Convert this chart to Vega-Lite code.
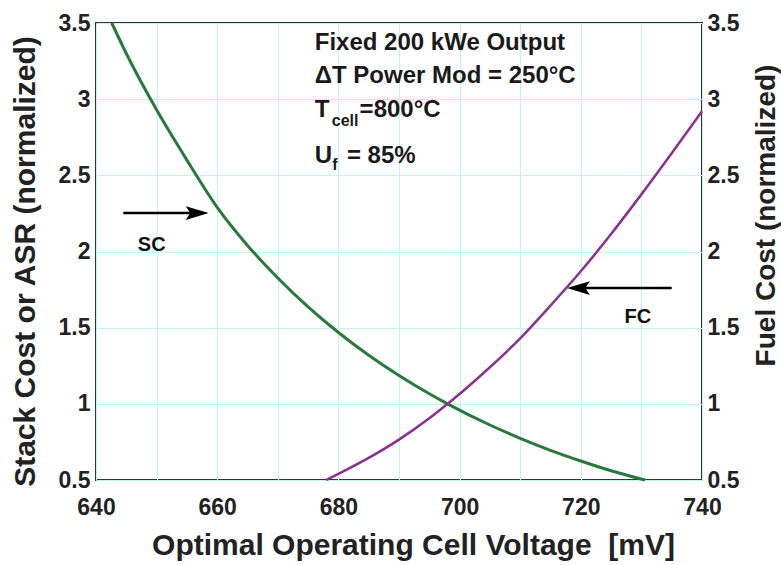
{
  "$schema": "https://vega.github.io/schema/vega-lite/v6.json",
  "width": 606,
  "height": 457,
  "autosize": {"type": "none"},
  "padding": {"left": 96, "top": 23, "right": 79, "bottom": 85},
  "background": "white",
  "config": {
    "view": {"stroke": "#333333", "strokeWidth": 2},
    "font": "Liberation Sans",
    "text": {"font": "Liberation Sans"}
  },
  "datasets": {
    "sc": [
      {"v": 642.6, "val": 3.5}, {"v": 645, "val": 3.3}, {"v": 650, "val": 2.93},
      {"v": 655, "val": 2.6}, {"v": 660, "val": 2.29}, {"v": 665, "val": 2.04},
      {"v": 670, "val": 1.826}, {"v": 675, "val": 1.636}, {"v": 680, "val": 1.468},
      {"v": 685, "val": 1.319}, {"v": 690, "val": 1.186}, {"v": 695, "val": 1.066},
      {"v": 698, "val": 1.0}, {"v": 705, "val": 0.861}, {"v": 710, "val": 0.774},
      {"v": 715, "val": 0.695}, {"v": 720, "val": 0.625}, {"v": 725, "val": 0.561},
      {"v": 730.6, "val": 0.5}
    ],
    "fc": [
      {"v": 678, "fuel": 0.5}, {"v": 680, "fuel": 0.54}, {"v": 685, "fuel": 0.645},
      {"v": 690, "fuel": 0.765}, {"v": 695, "fuel": 0.905}, {"v": 698, "fuel": 1.0},
      {"v": 700, "fuel": 1.065}, {"v": 705, "fuel": 1.24}, {"v": 710, "fuel": 1.43},
      {"v": 715, "fuel": 1.645}, {"v": 720, "fuel": 1.87}, {"v": 725, "fuel": 2.115},
      {"v": 730, "fuel": 2.375}, {"v": 735, "fuel": 2.645}, {"v": 740, "fuel": 2.92}
    ],
    "notes": [
      {"v": 676.1, "val": 3.369, "text": "Fixed 200 kWe Output"},
      {"v": 676.1, "val": 3.152, "text": "ΔT Power Mod = 250°C"},
      {"v": 676.1, "val": 2.929, "text": "T"},
      {"v": 683.5, "val": 2.929, "text": "=800°C"},
      {"v": 676.1, "val": 2.627, "text": "U"},
      {"v": 681.4, "val": 2.627, "text": "= 85%"}
    ],
    "subs": [
      {"v": 678.9, "val": 2.857, "text": "cell"},
      {"v": 679.0, "val": 2.568, "text": "f"}
    ],
    "labels": [
      {"v": 649.2, "val": 2.042, "text": "SC"},
      {"v": 729.4, "val": 1.57, "text": "FC"}
    ],
    "shafts": [
      {"v": 644.5, "v2": 655.5, "val": 2.252},
      {"v": 735.0, "v2": 720.5, "val": 1.76}
    ],
    "heads": [
      {"v": 658.6, "val": 2.252, "dir": "right"},
      {"v": 717.7, "val": 1.76, "dir": "left"}
    ]
  },
  "layer": [
    {
      "layer": [
        {
          "data": {"name": "sc"},
          "mark": {"type": "line", "color": "#287a3c", "strokeWidth": 3, "interpolate": "monotone"},
          "encoding": {
            "x": {
              "field": "v", "type": "quantitative",
              "scale": {"domain": [640, 740], "nice": false, "zero": false},
              "axis": {
                "orient": "bottom",
                "values": [640, 650, 660, 670, 680, 690, 700, 710, 720, 730, 740],
                "labelExpr": "datum.value % 20 === 0 ? datum.label : ''",
                "grid": true, "gridColor": "#c4f2f2", "gridWidth": 1,
                "ticks": false, "domain": false,
                "labelFontSize": 23, "labelFontWeight": "bold", "labelColor": "#222222",
                "labelPadding": 16, "labelFlush": false,
                "title": "Optimal Operating Cell Voltage \u00a0[mV]",
                "titleFontSize": 30, "titleFontWeight": "bold", "titleColor": "#222222",
                "titlePadding": 11, "titleX": 317
              }
            },
            "y": {
              "field": "val", "type": "quantitative",
              "scale": {"domain": [0.5, 3.5], "nice": false, "zero": false},
              "axis": {
                "orient": "left",
                "values": [0.5, 1, 1.5, 2, 2.5, 3, 3.5],
                "format": "~g",
                "grid": true, "gridColor": "#c4f2f2", "gridWidth": 1,
                "ticks": false, "domain": false,
                "labelFontSize": 23, "labelFontWeight": "bold", "labelColor": "#222222",
                "labelPadding": 6, "labelFlush": false,
                "title": "Stack Cost or ASR (normalized)",
                "titleFontSize": 30, "titleFontWeight": "bold", "titleColor": "#222222",
                "titlePadding": 18, "titleY": 238
              }
            }
          }
        },
        {
          "data": {"name": "shafts"},
          "mark": {"type": "rule", "color": "black", "strokeWidth": 2.5},
          "encoding": {
            "x": {"field": "v", "type": "quantitative"},
            "x2": {"field": "v2"},
            "y": {"field": "val", "type": "quantitative"}
          }
        },
        {
          "data": {"name": "heads"},
          "mark": {"type": "point", "filled": true, "color": "black", "opacity": 1, "size": 2116},
          "encoding": {
            "x": {"field": "v", "type": "quantitative"},
            "y": {"field": "val", "type": "quantitative"},
            "shape": {
              "field": "dir", "type": "nominal",
              "scale": {"domain": ["right", "left"], "range": ["M -1 -0.3 L 0 0 L -1 0.3 L -0.8 0 Z", "M 1 -0.3 L 0 0 L 1 0.3 L 0.8 0 Z"]},
              "legend": null
            }
          }
        },
        {
          "data": {"name": "notes"},
          "mark": {"type": "text", "align": "left", "baseline": "middle", "fontSize": 24, "fontWeight": "bold", "color": "#1a1a1a"},
          "encoding": {
            "x": {"field": "v", "type": "quantitative"},
            "y": {"field": "val", "type": "quantitative"},
            "text": {"field": "text"}
          }
        },
        {
          "data": {"name": "subs"},
          "mark": {"type": "text", "align": "left", "baseline": "middle", "fontSize": 16, "fontWeight": "bold", "color": "#1a1a1a"},
          "encoding": {
            "x": {"field": "v", "type": "quantitative"},
            "y": {"field": "val", "type": "quantitative"},
            "text": {"field": "text"}
          }
        },
        {
          "data": {"name": "labels"},
          "mark": {"type": "text", "align": "center", "baseline": "middle", "fontSize": 20, "fontWeight": "bold", "color": "#111111"},
          "encoding": {
            "x": {"field": "v", "type": "quantitative"},
            "y": {"field": "val", "type": "quantitative"},
            "text": {"field": "text"}
          }
        }
      ]
    },
    {
      "data": {"name": "fc"},
      "mark": {"type": "line", "color": "#8a3092", "strokeWidth": 2.5, "interpolate": "monotone"},
      "encoding": {
        "x": {"field": "v", "type": "quantitative"},
        "y": {
          "field": "fuel", "type": "quantitative",
          "scale": {"domain": [0.5, 3.5], "nice": false, "zero": false},
          "axis": {
            "orient": "right",
            "values": [0.5, 1, 1.5, 2, 2.5, 3, 3.5],
            "format": "~g",
            "grid": false, "ticks": false, "domain": false,
            "labelFontSize": 23, "labelFontWeight": "bold", "labelColor": "#222222",
            "labelPadding": 5, "labelFlush": false,
            "title": "Fuel Cost (normalized)",
            "titleFontSize": 28, "titleFontWeight": "bold", "titleColor": "#222222",
            "titleAngle": 270, "titleBaseline": "top",
            "titlePadding": 14, "titleY": 192
          }
        }
      }
    }
  ],
  "resolve": {"scale": {"y": "independent"}, "axis": {"y": "independent"}}
}
